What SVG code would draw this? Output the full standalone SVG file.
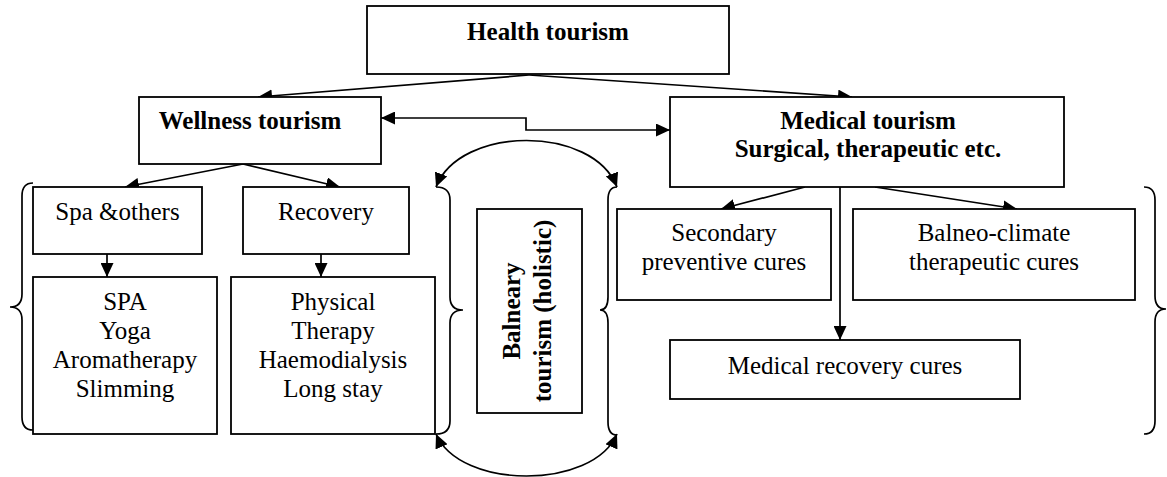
<svg xmlns="http://www.w3.org/2000/svg" width="1167" height="477" viewBox="0 0 1167 477">
<style>
.box{fill:#fff;stroke:#000;stroke-width:1.8}
.t{font-family:"Liberation Serif","Times New Roman",serif;font-size:25px;fill:#000;text-anchor:middle}
.b{font-weight:bold}
.c{fill:none;stroke:#000;stroke-width:1.7}
.ca{fill:none;stroke:#000;stroke-width:1.7;marker-end:url(#ah)}
.cd{fill:none;stroke:#000;stroke-width:1.7;marker-end:url(#ah);marker-start:url(#ah)}
</style>
<defs>
<marker id="ah" markerUnits="userSpaceOnUse" markerWidth="15" markerHeight="13" refX="14" refY="6.5" orient="auto-start-reverse">
<path d="M0,0 L14,6.5 L0,13 z" fill="#000"/>
</marker>
</defs>
<rect width="1167" height="477" fill="#fff"/>
<g id="connectors">
<line class="ca" x1="529" y1="75" x2="258" y2="97"/>
<line class="ca" x1="529" y1="75" x2="852" y2="97"/>
<polyline class="cd" points="381,118 526,118 526,130 670,130"/>
<line class="ca" x1="243" y1="164" x2="125" y2="187"/>
<line class="ca" x1="243" y1="164" x2="340" y2="187"/>
<line class="ca" x1="107" y1="254" x2="107" y2="277"/>
<line class="ca" x1="321" y1="254" x2="321" y2="277"/>
<line class="ca" x1="805" y1="187" x2="721" y2="209"/>
<line class="ca" x1="875" y1="187" x2="1017" y2="209"/>
<line class="ca" x1="840" y1="187" x2="840" y2="340"/>
<path class="cd" d="M436,187 C460,125 593,125 617,187"/>
<path class="cd" d="M436,434 C460,490 593,490 617,434"/>
<path class="c" d="M33,183 Q22,183 22,196 L22,294 Q22,307 10,307 Q22,307 22,320 L22,417 Q22,430 33,430"/>
<path class="c" d="M436,187 Q450,187 450,200 L450,297 Q450,310 463,310 Q450,310 450,323 L450,421 Q450,434 436,434"/>
<path class="c" d="M617,187 Q608,187 608,200 L608,297 Q608,310 600,310 Q608,310 608,323 L608,422 Q608,435 617,435"/>
<path class="c" d="M1144,187 Q1155,187 1155,200 L1155,296 Q1155,309 1166,309 Q1155,309 1155,322 L1155,421 Q1155,434 1144,434"/>
</g>
<g id="health">
<rect class="box" x="367" y="6" width="362" height="68"/>
<text class="t b" x="548" y="40">Health tourism</text>
</g>
<g id="wellness">
<rect class="box" x="139" y="97" width="242" height="67"/>
<text class="t b" x="250" y="129">Wellness tourism</text>
</g>
<g id="medical">
<rect class="box" x="670" y="97" width="394" height="90"/>
<text class="t b" x="868" y="129">Medical tourism</text>
<text class="t b" x="868" y="157">Surgical, therapeutic etc.</text>
</g>
<g id="spa-others">
<rect class="box" x="33" y="187" width="169" height="67"/>
<text class="t" x="117.5" y="220">Spa &amp;others</text>
</g>
<g id="recovery">
<rect class="box" x="243" y="187" width="166" height="67"/>
<text class="t" x="326" y="220">Recovery</text>
</g>
<g id="spa-list">
<rect class="box" x="33" y="277" width="184" height="157"/>
<text class="t" x="125" y="310">SPA</text>
<text class="t" x="125" y="339">Yoga</text>
<text class="t" x="125" y="368">Aromatherapy</text>
<text class="t" x="125" y="397">Slimming</text>
</g>
<g id="recovery-list">
<rect class="box" x="231" y="277" width="204" height="157"/>
<text class="t" x="333" y="310">Physical</text>
<text class="t" x="333" y="339">Therapy</text>
<text class="t" x="333" y="368">Haemodialysis</text>
<text class="t" x="333" y="397">Long stay</text>
</g>
<g id="balneary">
<rect class="box" x="477" y="209" width="105" height="204"/>
<text class="t b" transform="translate(520,311) rotate(-90)" x="0" y="0">Balneary</text>
<text class="t b" transform="translate(551,311) rotate(-90)" x="0" y="0">tourism (holistic)</text>
</g>
<g id="secondary">
<rect class="box" x="617" y="209" width="214" height="91"/>
<text class="t" x="724" y="241">Secondary</text>
<text class="t" x="724" y="270">preventive cures</text>
</g>
<g id="balneo-climate">
<rect class="box" x="853" y="209" width="282" height="91"/>
<text class="t" x="994" y="241">Balneo-climate</text>
<text class="t" x="994" y="270">therapeutic cures</text>
</g>
<g id="medical-recovery">
<rect class="box" x="670" y="340" width="350" height="59"/>
<text class="t" x="845" y="374">Medical recovery cures</text>
</g>
</svg>
